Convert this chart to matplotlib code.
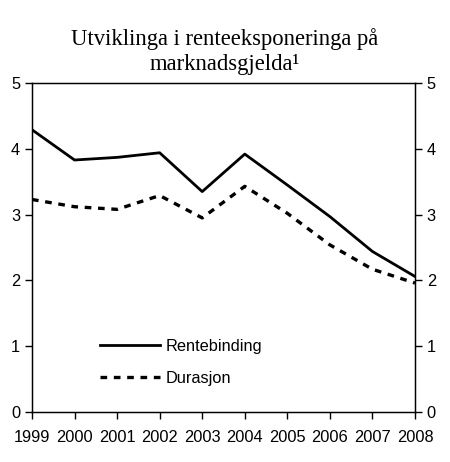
import matplotlib
matplotlib.use("Agg")
import matplotlib.pyplot as plt

years = [1999, 2000, 2001, 2002, 2003, 2004, 2005, 2006, 2007, 2008]
rentebinding = [4.29, 3.83, 3.87, 3.94, 3.35, 3.92, 3.45, 2.97, 2.44, 2.06]
durasjon = [3.23, 3.12, 3.08, 3.29, 2.95, 3.43, 3.02, 2.54, 2.17, 1.96]
y_ticks = [0, 1, 2, 3, 4, 5]
title = "Utviklinga i renteeksponeringa på\nmarknadsgjelda¹"

plt.rcParams['font.family'] = ['Liberation Sans', 'DejaVu Sans']

fig = plt.figure(figsize=(4.5, 4.62), dpi=100)
ax = fig.add_axes([0.0711, 0.1082, 0.8511, 0.7121])

ax.plot(years, rentebinding, color='black', lw=2.0, label='Rentebinding')
ax.plot(years, durasjon, color='black', lw=2.4, linestyle=(0, (2.0, 2.0)),
        label='Durasjon')

ax.set_xlim(years[0], years[-1])
ax.set_ylim(0, 5)
ax.set_xticks(years)
ax.set_xticklabels([str(y) for y in years])
ax.set_yticks(y_ticks)
ax.tick_params(axis='both', direction='out', length=5, width=1, labelsize=11.8,
               colors='black')
ax.tick_params(axis='x', pad=8)
for s in ax.spines.values():
    s.set_linewidth(1.0)

ax2 = ax.twinx()
ax2.set_ylim(0, 5)
ax2.set_yticks(y_ticks)
ax2.tick_params(axis='y', direction='out', length=5, width=1, labelsize=11.8)

leg = ax.legend(loc='lower left', bbox_to_anchor=(0.16, 0.06), frameon=False,
                fontsize=11.8, handlelength=3.7, handletextpad=0.3,
                labelspacing=1.05, borderaxespad=0)

fig.text(0.5, 0.94, title, ha='center', va='top', fontsize=16.3,
         family=['Liberation Serif', 'DejaVu Serif'], linespacing=1.3)

fig.savefig('out.png', dpi=100)
